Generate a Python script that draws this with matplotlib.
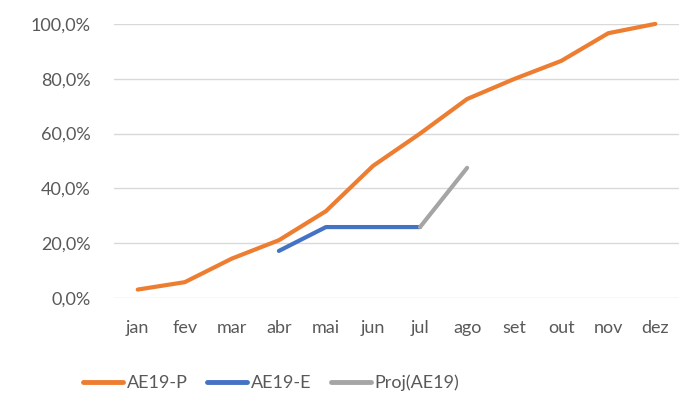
import matplotlib.pyplot as plt
from matplotlib.ticker import FuncFormatter
import numpy as np

# Dados
meses = ['jan', 'fev', 'mar', 'abr', 'mai', 'jun', 'jul', 'ago', 'set', 'out', 'nov', 'dez']
ae19_p = [3.1, 5.8, 14.4, 21.1, 31.7, 48.2, 60.0, 72.6, 79.9, 86.5, 96.6, 100.0]
ae19_e = [None, None, None, 17.2, 25.9, 25.9, 25.9, None, None, None, None, None]
proj_ae19 = [None, None, None, None, None, None, 25.9, 47.5, None, None, None, None]

def to_arr(vals):
    return np.array([np.nan if v is None else v / 100 for v in vals])

plt.rcParams['font.family'] = ['Lato', 'DejaVu Sans']
cinza_txt = '#595959'

fig = plt.figure(figsize=(6.92, 4.05), dpi=100)
ax = fig.add_axes([0.165, 0.264, 0.816, 0.677])

x = np.arange(len(meses))
ax.plot(x, to_arr(ae19_p), color='#ED7D31', lw=3, solid_capstyle='round', label='AE19-P', clip_on=False)
ax.plot(x, to_arr(ae19_e), color='#4472C4', lw=3, solid_capstyle='round', label='AE19-E', clip_on=False)
ax.plot(x, to_arr(proj_ae19), color='#A5A5A5', lw=3, solid_capstyle='round', label='Proj(AE19)', clip_on=False)

ax.set_xlim(-0.5, 11.5)
ax.set_ylim(0, 1.0)
ax.set_yticks(np.arange(0, 1.01, 0.2))
ax.yaxis.set_major_formatter(FuncFormatter(lambda v, p: f'{v*100:.1f}%'.replace('.', ',')))
ax.set_xticks(x)
ax.set_xticklabels(meses)
ax.grid(axis='y', color='#d9d9d9', lw=1)
ax.set_axisbelow(True)
for s in ax.spines.values():
    s.set_visible(False)
ax.tick_params(length=0, labelsize=13, colors=cinza_txt)
ax.tick_params(axis='y', pad=17)
ax.tick_params(axis='x', pad=16)

leg = fig.legend(loc='center', bbox_to_anchor=(0.392, 0.055), ncol=3, frameon=False,
                 fontsize=13, handlelength=2.2, handletextpad=0.2, columnspacing=1.1)
for t in leg.get_texts():
    t.set_color(cinza_txt)
for h in leg.get_lines():
    h.set_linewidth(3.5)

fig.savefig('out.png', dpi=100)
